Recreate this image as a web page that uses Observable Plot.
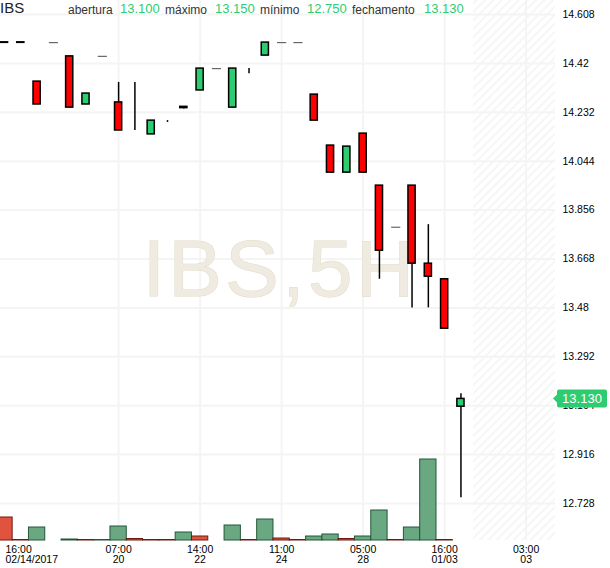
<!DOCTYPE html>
<html><head><meta charset="utf-8">
<script src="https://cdn.jsdelivr.net/npm/d3@7"></script>
<script src="https://cdn.jsdelivr.net/npm/@observablehq/plot@0.6"></script>
<style>
body{margin:0;background:#fff;}
#wrap{position:relative;width:610px;height:568px;overflow:hidden;background:#fff;font-family:"Liberation Sans",Arial,sans-serif;}
#wrap svg{position:absolute;left:0;top:0;}
.hdr{position:absolute;white-space:nowrap;line-height:1;}
</style></head><body>
<div id="wrap"></div>
<script>
// ---- data ----
const symbol = "IBS";
const timeframe = "5H";
const headerLabels = ["abertura", "máximo", "mínimo", "fechamento"];
const headerValues = ["13.100", "13.150", "12.750", "13.130"];

// candle index 0..28 (5-hour bars)
const opens  = [14.501,14.501,14.35,14.50,14.447,14.262,14.447,14.27,14.162,14.147,14.20,14.253,14.316,14.40,14.25,14.40,14.45,14.50,14.50,14.30,14.104,14.00,14.15,13.95,13.79,13.95,13.65,13.59,13.10];
const highs  = [14.501,14.501,14.35,14.50,14.447,14.304,14.447,14.347,14.347,14.20,14.20,14.253,14.40,14.40,14.40,14.40,14.50,14.50,14.50,14.30,14.104,14.10,14.15,13.95,13.79,13.95,13.80,13.59,13.15];
const lows   = [14.499,14.499,14.262,14.50,14.25,14.262,14.447,14.162,14.162,14.147,14.193,14.245,14.316,14.40,14.25,14.38,14.45,14.50,14.50,14.20,14.00,14.00,14.00,13.59,13.79,13.48,13.48,13.40,12.75];
const closes = [14.499,14.499,14.262,14.50,14.25,14.304,14.447,14.162,14.162,14.20,14.20,14.248,14.40,14.40,14.40,14.40,14.50,14.50,14.50,14.20,14.00,14.10,14.00,13.70,13.79,13.65,13.60,13.40,13.13];

// volume (relative units) and its direction
const volumes = [23,0.5,13,null,1,0.5,0.5,14,1.5,0.5,0.5,8,4,null,15,0.5,21,2,0.5,4,6,1.5,4,30,0.5,13,81,0.5,null];
const volDir  = ["down","down","up",null,"up","down","up","up","down","down","down","up","down",null,"up","down","up","down","down","up","up","down","up","up","down","up","up","down",null];

const yTicks = [14.608,14.42,14.232,14.044,13.856,13.668,13.48,13.292,13.104,12.916,12.728];
const xTicks = [7,12,17,22,27,32];
const xTickLabels = ["07:00\n20","14:00\n22","11:00\n24","05:00\n28","16:00\n01/03","03:00\n03"];
const firstTickLabel = "16:00\n02/14/2017";

const xDomain = [-0.245, 33.8];
const yDomain = [12.5857, 14.6618];
const volDomain = [0, 540];
const futureStart = 28.77;
const lastClose = 13.13;
const lastCloseLabel = "13.130";

// ---- build ----
const GREEN = "#2ecc71", RED = "#ff0000";
const FONT = "Liberation Sans, Arial, sans-serif";
const candles = opens.map((o, i) => ({i, o, h: highs[i], l: lows[i], c: closes[i]}));
const isFlat = d => d.o === d.c && d.h === d.l;
const flat = candles.filter(isFlat);
const bodies = candles.filter(d => !isFlat(d));
const bodyFill = d => d.c > d.o ? GREEN : d.c < d.o ? RED : "#000";

function hatchDefs() {
  const defs = d3.create("svg:defs");
  const p = defs.append("pattern").attr("id", "hatch").attr("patternUnits", "userSpaceOnUse")
    .attr("width", 6).attr("height", 6).attr("patternTransform", "rotate(45)");
  p.append("line").attr("x1", 1).attr("y1", 0).attr("x2", 1).attr("y2", 6)
    .attr("stroke", "#f1f1f1").attr("stroke-width", 1.3);
  return defs.node();
}

function priceTag(index, scales, values, dims) {
  const y = scales.y(lastClose);
  const x0 = dims.width - dims.marginRight;
  const L = x0 + 2, R = dims.width - 3;
  const g = d3.create("svg:g");
  g.append("path")
    .attr("d", `M${x0-2},${y} L${L},${y-4} L${L},${y-7} Q${L},${y-9} ${L+2},${y-9} L${R-2},${y-9} Q${R},${y-9} ${R},${y-7} L${R},${y+7} Q${R},${y+9} ${R-2},${y+9} L${L+2},${y+9} Q${L},${y+9} ${L},${y+7} L${L},${y+4} Z`)
    .attr("fill", GREEN);
  g.append("text").attr("x", (L + R) / 2).attr("y", y).attr("dy", "0.36em")
    .attr("text-anchor", "middle").attr("fill", "#fff")
    .attr("font-size", 13).attr("font-family", FONT)
    .text(lastCloseLabel);
  return g.node();
}

const common = {
  width: 610, height: 568,
  marginTop: 0, marginBottom: 28, marginLeft: 0, marginRight: 55,
  style: {fontFamily: FONT, fontSize: "10.5px", background: "transparent", color: "#000", overflow: "visible"},
  x: {domain: xDomain, axis: null},
  color: {type: "identity"}
};

const main = Plot.plot({
  ...common,
  y: {domain: yDomain, axis: null},
  marks: [
    hatchDefs,
    Plot.rect([futureStart], {x1: d => d, x2: () => xDomain[1], fill: "url(#hatch)"}),
    Plot.gridY(yTicks, {stroke: "#f4f4f4", strokeOpacity: 1, strokeWidth: 2}),
    Plot.gridX(xTicks, {stroke: "#f4f4f4", strokeOpacity: 1, strokeWidth: 2}),
    Plot.text([`${symbol},${timeframe}`], {frameAnchor: "middle", text: d => d, fontSize: 80, dx: 2,
      fill: "#efebe0", stroke: "#e1dbc9", strokeWidth: 1, fontFamily: FONT}),
    Plot.ruleX(bodies.filter(d => d.h > d.l), {x: "i", y1: "l", y2: "h", stroke: "#000", strokeWidth: 1.5}),
    Plot.rect(bodies, {x1: d => d.i - 0.22, x2: d => d.i + 0.22, y1: "o", y2: "c", fill: bodyFill, stroke: "#000", strokeWidth: 1.5}),
    Plot.link(flat, {x1: d => d.i - 0.28, x2: d => d.i + 0.28, y1: "c", y2: "c", stroke: "#666", strokeWidth: 1.2}),
    Plot.axisY(yTicks, {anchor: "right", tickSize: 0, tickPadding: 7, tickFormat: d => String(+d.toFixed(3)), fontSize: 10.5, fill: "#000"}),
    Plot.text(xTicks, {x: d => d, frameAnchor: "bottom", lineAnchor: "top", dy: 5,
      text: (d, k) => xTickLabels[k], lineHeight: 1, fontSize: 10.5, fill: "#000"}),
    Plot.text([firstTickLabel], {frameAnchor: "bottom-left", textAnchor: "start", lineAnchor: "top", dx: 5, dy: 5,
      text: d => d, lineHeight: 1, fontSize: 10.5, fill: "#000"}),
    priceTag
  ]
});

// widen watermark letter spacing
for (const t of main.querySelectorAll("text")) {
  if (t.textContent === `${symbol},${timeframe}`) t.setAttribute("letter-spacing", "3.5");
}

const volData = volumes.map((v, i) => ({i, v, dir: volDir[i]})).filter(d => d.v != null);
const vol = Plot.plot({
  ...common,
  y: {domain: volDomain, axis: null},
  marks: [
    Plot.rect(volData, {x1: d => d.i - 0.5, x2: d => d.i + 0.5, y1: 0, y2: "v",
      fill: d => d.dir === "up" ? "#6aa882" : "#e0533f",
      stroke: d => d.dir === "up" ? "#23573a" : "#6e1a10", strokeWidth: 1})
  ]
});

const wrap = document.getElementById("wrap");
wrap.appendChild(main);
wrap.appendChild(vol);

// header overlay
const hdr = [
  {t: symbol, left: 0, top: 0, size: 15, color: "#222"},
  {t: headerLabels[0], left: 68, top: 4, size: 12, color: "#333"},
  {t: headerValues[0], left: 120, top: 2, size: 13, color: GREEN},
  {t: headerLabels[1], left: 165, top: 4, size: 12, color: "#333"},
  {t: headerValues[1], left: 215, top: 2, size: 13, color: GREEN},
  {t: headerLabels[2], left: 260, top: 4, size: 12, color: "#333"},
  {t: headerValues[2], left: 307, top: 2, size: 13, color: GREEN},
  {t: headerLabels[3], left: 352, top: 4, size: 12, color: "#333"},
  {t: headerValues[3], left: 424, top: 2, size: 13, color: GREEN}
];
for (const h of hdr) {
  const s = document.createElement("div");
  s.className = "hdr";
  s.textContent = h.t;
  s.style.left = h.left + "px"; s.style.top = h.top + "px";
  s.style.fontSize = h.size + "px"; s.style.color = h.color;
  wrap.appendChild(s);
}
</script>
</body></html>
